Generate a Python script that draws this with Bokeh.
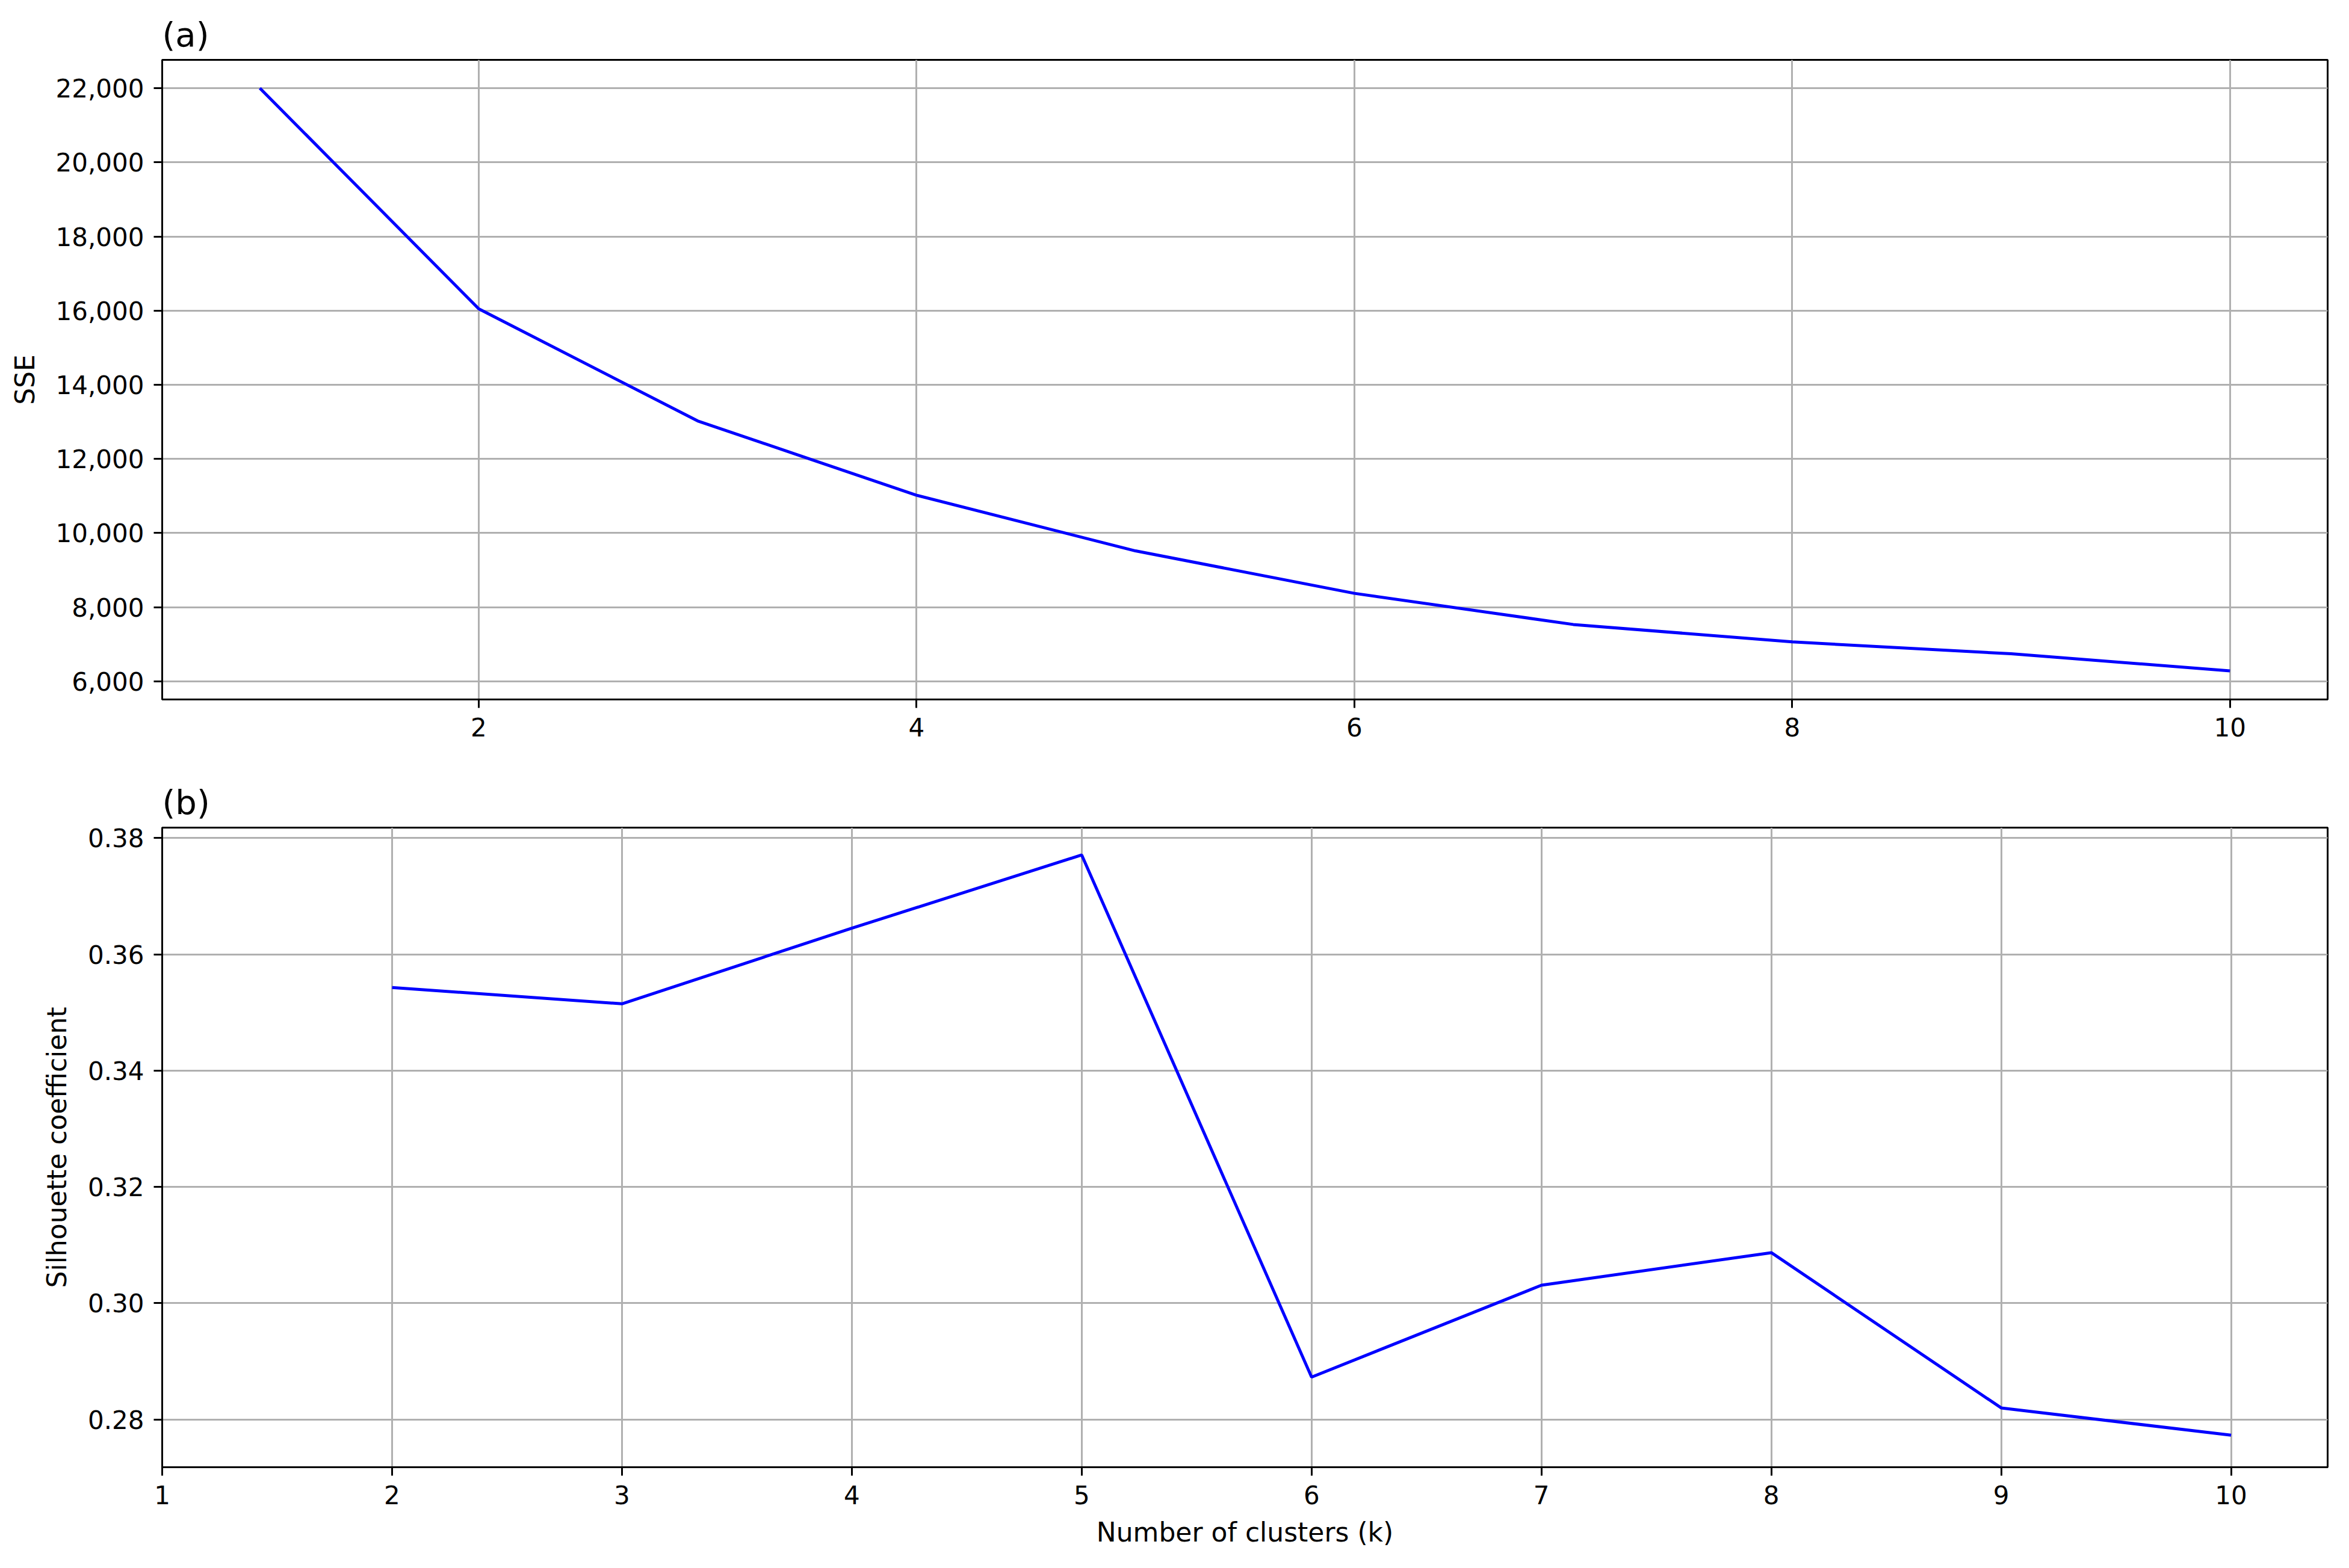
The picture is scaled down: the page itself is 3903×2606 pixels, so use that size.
from bokeh.plotting import figure
from bokeh.layouts import column
from bokeh.models import FixedTicker, NumeralTickFormatter, Range1d
from bokeh.embed import file_html
from bokeh.resources import INLINE

# ---- data ----
k_sse = [1, 2, 3, 4, 5, 6, 7, 8, 9, 10]
sse = [22000, 16050, 13025, 11020, 9520, 8375, 7535, 7065, 6745, 6285]

k_sil = [2, 3, 4, 5, 6, 7, 8, 9, 10]
silhouette = [0.3543, 0.3515, 0.3645, 0.3771, 0.2873, 0.3031, 0.3087, 0.2820, 0.2773]

sse_ticks = [6000, 8000, 10000, 12000, 14000, 16000, 18000, 20000, 22000]
sse_xticks = [2, 4, 6, 8, 10]
sil_ticks = [0.28, 0.30, 0.32, 0.34, 0.36, 0.38]
sil_xticks = [1, 2, 3, 4, 5, 6, 7, 8, 9, 10]

FONT = "DejaVu Sans"
TICK_FS = "42px"
LABEL_FS = "44px"
TITLE_FS = "56px"
W = 3887


def style(p, xticks, yticks, yfmt):
    p.background_fill_color = "white"
    p.border_fill_color = "white"
    p.outline_line_color = "black"
    p.outline_line_width = 3
    p.outline_line_alpha = 1.0
    p.title.align = "left"
    p.title.text_font = FONT
    p.title.text_font_size = TITLE_FS
    p.title.text_font_style = "normal"
    p.title.text_color = "black"
    p.title.standoff = 19
    p.xaxis.ticker = FixedTicker(ticks=xticks)
    p.yaxis.ticker = FixedTicker(ticks=yticks)
    p.xgrid.ticker = FixedTicker(ticks=xticks)
    p.ygrid.ticker = FixedTicker(ticks=yticks)
    p.yaxis.formatter = NumeralTickFormatter(format=yfmt)
    for ax in (p.xaxis, p.yaxis):
        ax.major_label_text_font = FONT
        ax.major_label_text_font_size = TICK_FS
        ax.major_label_text_color = "black"
        ax.major_tick_out = 14
        ax.major_tick_in = 0
        ax.minor_tick_out = 0
        ax.minor_tick_in = 0
        ax.major_tick_line_width = 3
        ax.major_tick_line_color = "black"
        ax.axis_line_color = "black"
        ax.axis_line_width = 3
        ax.major_label_standoff = 16
        ax.axis_label_text_font = FONT
        ax.axis_label_text_font_size = LABEL_FS
        ax.axis_label_text_font_style = "normal"
        ax.axis_label_text_color = "black"
    p.yaxis.axis_label_standoff = 23
    p.xaxis.axis_label_standoff = 18
    for g in (p.xgrid, p.ygrid):
        g.grid_line_color = "#b0b0b0"
        g.grid_line_width = 3
        g.grid_line_alpha = 1.0


p1 = figure(width=W, height=1282, output_backend="svg", toolbar_location=None,
            x_range=Range1d(0.554, 10.446), y_range=Range1d(5513, 22763),
            min_border_left=269, min_border_right=20, min_border_top=99,
            min_border_bottom=120, title="(a)")
style(p1, sse_xticks, sse_ticks, "0,0")
p1.yaxis.axis_label = "SSE"
p1.line(k_sse, sse, line_color="#0000ff", line_width=5)

p2 = figure(width=W, height=1308, output_backend="svg", toolbar_location=None,
            x_range=Range1d(1.0, 10.42), y_range=Range1d(0.2718, 0.3818),
            min_border_left=269, min_border_right=20, min_border_top=93,
            min_border_bottom=152, title="(b)")
style(p2, sil_xticks, sil_ticks, "0.00")
p2.yaxis.axis_label = "Silhouette coefficient"
p2.xaxis.axis_label = "Number of clusters (k)"
p2.line(k_sil, silhouette, line_color="#0000ff", line_width=5)

layout = column(p1, p2, spacing=0)
open("out.html", "w").write(file_html(layout, INLINE))
